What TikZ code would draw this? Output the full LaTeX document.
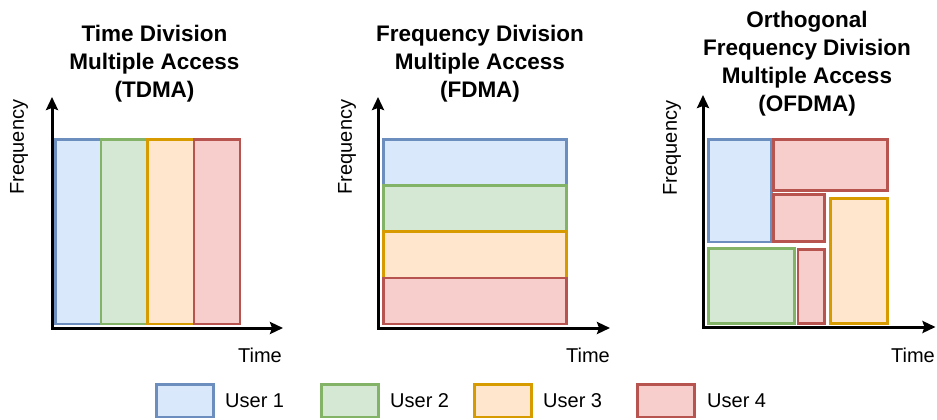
\documentclass[tikz,border=0pt]{standalone}
\usepackage{fontspec}
\setmainfont{Liberation Sans}
\usetikzlibrary{arrows.meta}
\definecolor{bfill}{HTML}{DAE8FC}\definecolor{bline}{HTML}{6C8EBF}
\definecolor{gfill}{HTML}{D5E8D4}\definecolor{gline}{HTML}{82B366}
\definecolor{ofill}{HTML}{FFE6CC}\definecolor{oline}{HTML}{D79B00}
\definecolor{rfill}{HTML}{F8CECC}\definecolor{rline}{HTML}{B85450}
\tikzset{
  cell/.style={line width=2.8pt, inner sep=0pt, outer sep=0pt, anchor=north west},
  ublue/.style={cell, draw=bline, fill=bfill},
  ugreen/.style={cell, draw=gline, fill=gfill},
  uorange/.style={cell, draw=oline, fill=ofill},
  ured/.style={cell, draw=rline, fill=rfill},
  axis/.style={line width=3pt, black, {Stealth[length=13pt,width=12pt,inset=2pt]}-{Stealth[length=13pt,width=12pt,inset=2pt]}},
  ttl/.style={font=\fontsize{22.5}{28}\selectfont\bfseries, align=center, inner sep=0pt},
  lbl/.style={font=\fontsize{20}{24}\selectfont, inner sep=0pt},
}
\begin{document}
\begin{tikzpicture}[x=1pt,y=-1pt]
\useasboundingbox (0,0) rectangle (937,420);
% titles
\node[ttl] (tt) at (154.5,63.5) {Time Division\\Multiple Access\\(TDMA)};
\node[ttl] (ft) at (480,63.5) {Frequency Division\\Multiple Access\\(FDMA)};
\node[ttl] (ot) at (807,63.5) {Orthogonal\\Frequency Division\\Multiple Access\\(OFDMA)};
% TDMA
\node[ublue,   minimum width=45.5pt, minimum height=184.5pt] (t1) at (55.5,139.5) {};
\node[ugreen,  minimum width=46.5pt, minimum height=184.5pt] (t2) at (101,139.5) {};
\node[uorange, minimum width=46.5pt, minimum height=184.5pt] (t3) at (147.5,139.5) {};
\node[ured,    minimum width=46pt,   minimum height=184.5pt] (t4) at (194,139.5) {};
\coordinate (tya) at (52,97); \coordinate (txa) at (283,328);
\draw[axis] (tya) |- (txa);
\node[lbl, rotate=90] (tf) at (19,147) {Frequency};
\node[lbl] (tm) at (260,355) {Time};
% FDMA
\node[ublue,   minimum width=183pt, minimum height=46pt]   (f1) at (383.5,139.5) {};
\node[ugreen,  minimum width=183pt, minimum height=46.2pt] (f2) at (383.5,185.5) {};
\node[uorange, minimum width=183pt, minimum height=46.2pt] (f3) at (383.5,231.7) {};
\node[ured,    minimum width=183pt, minimum height=46.1pt] (f4) at (383.5,277.9) {};
\coordinate (fya) at (378,97); \coordinate (fxa) at (610,328);
\draw[axis] (fya) |- (fxa);
\node[lbl, rotate=90] (ff) at (347,147) {Frequency};
\node[lbl] (fm) at (588,355) {Time};
% OFDMA
\node[ublue,   minimum width=63pt,  minimum height=102.5pt] (o1) at (708.5,139.5) {};
\node[ured,    minimum width=114pt, minimum height=51pt]  (o2) at (773.5,139.5) {};
\node[ured,    minimum width=51pt,  minimum height=47pt]  (o3) at (773.5,194.5) {};
\node[uorange, minimum width=57pt,  minimum height=125pt] (o4) at (830.5,198.5) {};
\node[ugreen,  minimum width=86pt,  minimum height=75pt]  (o5) at (708.5,248.5) {};
\node[ured,    minimum width=26.5pt, minimum height=74pt]  (o6) at (798,249.5) {};
\coordinate (oya) at (703,95); \coordinate (oxa) at (935.5,327);
\draw[axis] (oya) |- (oxa);
\node[lbl, rotate=90] (of) at (672,148) {Frequency};
\node[lbl] (om) at (913,355) {Time};
% legend
\node[ublue,   minimum width=57pt, minimum height=32.5pt] (l1) at (156.5,384.5) {};
\node[ugreen,  minimum width=57pt, minimum height=32.5pt] (l2) at (321.5,384.5) {};
\node[uorange, minimum width=57pt, minimum height=32.5pt] (l3) at (474.5,384.5) {};
\node[ured,    minimum width=57pt, minimum height=32.5pt] (l4) at (637.5,384.5) {};
\node[lbl, anchor=west] (u1) at (225,401) {User 1};
\node[lbl, anchor=west] (u2) at (390,401) {User 2};
\node[lbl, anchor=west] (u3) at (543,401) {User 3};
\node[lbl, anchor=west] (u4) at (707,401) {User 4};
\end{tikzpicture}
\end{document}
